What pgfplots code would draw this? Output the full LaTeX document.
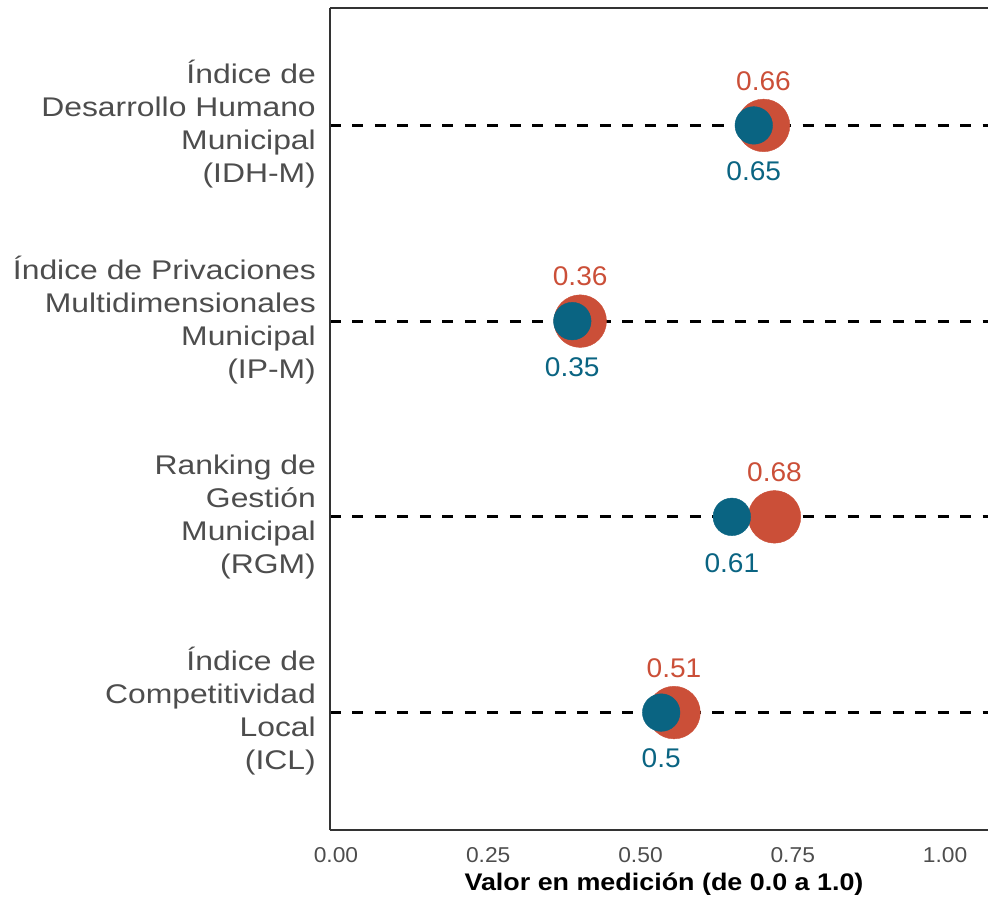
\documentclass[border=0pt]{standalone}
\usepackage{fontspec}
\setmainfont{Liberation Sans}
\usepackage{graphicx}
\usepackage{pgfplots}
\usepackage{pgfplotstable}
\pgfplotsset{compat=1.18}
\definecolor{cred}{RGB}{203,79,56}
\definecolor{cblue}{RGB}{10,100,130}
\definecolor{lab}{RGB}{77,77,77}
\newcommand\yl[1]{\scalebox{1.18}[1]{\begin{tabular}{@{}r@{}}#1\end{tabular}}}
\newcommand\xt[1]{\scalebox{1.06}[1]{#1}}

\pgfplotstableread{
x y lab
0.702 4 0.66
0.401 3 0.36
0.720 2 0.68
0.555 1 0.51
}\redtab
\pgfplotstableread{
x y lab
0.686 4 0.65
0.388 3 0.35
0.650 2 0.61
0.534 1 0.5
}\bluetab

\begin{document}
\begin{tikzpicture}
\useasboundingbox (-330pt,-68pt) rectangle (658pt,830pt);
\begin{axis}[
  at={(0,0)}, anchor=south west,
  scale only axis, width=658pt, height=822pt,
  xmin=-0.00985, xmax=1.0706, ymin=0.4, ymax=4.6,
  clip=false,
  axis lines*=left,
  axis line style={-, draw=black!80, line width=1.5pt},
  major tick length=0pt,
  xtick={0,0.25,0.5,0.75,1},
  xticklabels={\xt{0.00},\xt{0.25},\xt{0.50},\xt{0.75},\xt{1.00}},
  xticklabel style={font=\fontsize{21.5}{24}\selectfont, text=lab, inner sep=0pt, anchor=north, yshift=-17pt},
  ytick={1,2,3,4},
  yticklabels={
    {\yl{Índice de\\Competitividad\\Local\\(ICL)}},
    {\yl{Ranking de\\Gestión\\Municipal\\(RGM)}},
    {\yl{Índice de Privaciones\\Multidimensionales\\Municipal\\(IP-M)}},
    {\yl{Índice de\\Desarrollo Humano\\Municipal\\(IDH-M)}}},
  yticklabel style={font=\fontsize{27}{33}\selectfont, text=lab, inner sep=0pt, anchor=east, xshift=-14pt, yshift=-1pt},
  ymajorgrids,
  major grid style={black, line width=2.8pt, dash pattern=on 11pt off 11.5pt},
  xlabel={\scalebox{1.12}[1]{Valor en medición (de 0.0 a 1.0)}},
  xlabel style={font=\bfseries\fontsize{24}{28}\selectfont, at={(axis description cs:0.5,0)}, anchor=center, yshift=-54pt, xshift=5pt},
]
\addplot[only marks, color=cred, mark=*, mark size=26.3pt, mark options={draw=cred, fill=cred},
  nodes near coords={\scalebox{1.04}[1]{\pgfplotspointmeta}}, point meta=explicit symbolic,
  every node near coord/.style={anchor=center, yshift=44.5pt, text=cred, font=\fontsize{27}{30}\selectfont}]
  table[x=x, y=y, meta=lab] {\redtab};
\addplot[only marks, color=cblue, mark=*, mark size=18.8pt, mark options={draw=cblue, fill=cblue},
  nodes near coords={\scalebox{1.04}[1]{\pgfplotspointmeta}}, point meta=explicit symbolic,
  every node near coord/.style={anchor=center, yshift=-46pt, text=cblue, font=\fontsize{27}{30}\selectfont}]
  table[x=x, y=y, meta=lab] {\bluetab};
\draw[black!80, line width=1.5pt] (rel axis cs:0,1) -- (rel axis cs:1,1);
\end{axis}
\end{tikzpicture}
\end{document}
